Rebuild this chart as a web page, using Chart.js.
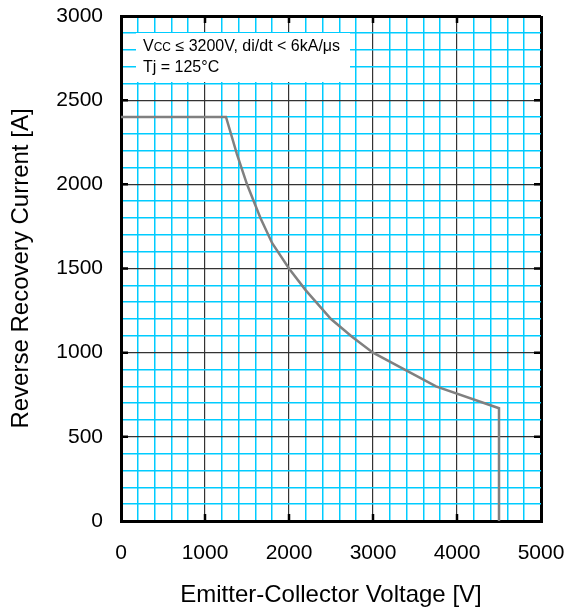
<!DOCTYPE html>
<html>
<head>
<meta charset="utf-8">
<script src="https://cdn.jsdelivr.net/npm/chart.js@4"></script>
<style>
  html, body { margin: 0; padding: 0; background: #fff; }
  #wrap { width: 569px; height: 612px; }
</style>
</head>
<body>
<div id="wrap"><canvas id="chartRRSOA"></canvas></div>
<script>
// === DATA ===
const voltage = [0, 1250, 1380, 1500, 1660, 1800, 2000, 2200, 2500, 2750, 3000, 3750, 4500, 4500];
const current = [2400, 2400, 2180, 2000, 1800, 1650, 1500, 1370, 1200, 1095, 1000, 800, 670, 0];
const xTicks = [0, 1000, 2000, 3000, 4000, 5000];
const yTicks = [0, 500, 1000, 1500, 2000, 2500, 3000];
const noteLines = ['Vcc \u2264 3200V, di/dt < 6kA/\u03bcs', 'Tj = 125\u00b0C'];

const FONT = 'Liberation Sans, Arial, sans-serif';
const CYAN = '#00ccff';

// === GRID STYLE ===
function gridColor(ticks, min, max) {
  return ctx => {
    const v = ctx.tick.value;
    if (v === min || v === max) return '#000';
    return ticks.includes(v) ? '#333' : CYAN;
  };
}
function gridWidth(min, max, majors) {
  return ctx => {
    const v = ctx.tick.value;
    if (v === min || v === max) return 3;
    return majors.includes(v) ? 1.2 : 1.5;
  };
}

// === PLUGIN: short tick marks on the inside of the frame ===
const innerTicks = {
  id: 'innerTicks',
  afterDatasetsDraw(chart) {
    const { ctx, chartArea: a, scales: { x, y } } = chart;
    ctx.save();
    ctx.strokeStyle = '#000';
    ctx.lineWidth = 2.5;
    ctx.beginPath();
    xTicks.slice(1, -1).forEach(v => {
      const px = x.getPixelForValue(v);
      ctx.moveTo(px, a.bottom); ctx.lineTo(px, a.bottom - 7);
      ctx.moveTo(px, a.top); ctx.lineTo(px, a.top + 7);
    });
    yTicks.slice(1, -1).forEach(v => {
      const py = y.getPixelForValue(v);
      ctx.moveTo(a.left, py); ctx.lineTo(a.left + 7, py);
      ctx.moveTo(a.right, py); ctx.lineTo(a.right - 7, py);
    });
    ctx.stroke();
    ctx.restore();
  }
};

// === PLUGIN: condition note ===
const noteBox = {
  id: 'noteBox',
  beforeDatasetsDraw(chart) {
    const { ctx, chartArea: a } = chart;
    const bx = a.left + 15, by = a.top + 17, bw = 214, bh = 49;
    ctx.save();
    ctx.fillStyle = '#fff';
    ctx.fillRect(bx, by, bw, bh);
    ctx.fillStyle = '#000';
    ctx.textBaseline = 'alphabetic';
    // first line: V with small-caps CC
    let tx = bx + 7, ty1 = by + 18, ty2 = by + 39;
    ctx.font = '16px ' + FONT;
    ctx.fillText('V', tx, ty1);
    tx += ctx.measureText('V').width;
    ctx.font = '12px ' + FONT;
    ctx.fillText('CC', tx, ty1);
    tx += ctx.measureText('CC').width;
    ctx.font = '16px ' + FONT;
    ctx.fillText(noteLines[0].slice(3), tx, ty1);
    ctx.fillText(noteLines[1], bx + 7, ty2);
    ctx.restore();
  }
};

// === CHART ===
new Chart(document.getElementById('chartRRSOA'), {
  type: 'scatter',
  data: {
    datasets: [{
      data: voltage.map((v, i) => ({ x: v, y: current[i] })),
      showLine: true,
      borderColor: '#808080',
      borderWidth: 2.5,
      pointRadius: 0,
      tension: 0
    }]
  },
  options: {
    responsive: true,
    maintainAspectRatio: false,
    animation: false,
    layout: { padding: { left: 0, top: 16, right: 28, bottom: 0 } },
    plugins: { legend: { display: false }, tooltip: { enabled: false } },
    scales: {
      x: {
        type: 'linear', min: 0, max: 5000,
        afterFit: s => { s.height = 91; s.paddingLeft = 0; s.paddingRight = 0; },
        ticks: {
          stepSize: 200, autoSkip: false, maxRotation: 0,
          padding: 20, color: '#000', font: { family: FONT, size: 21 },
          callback: v => xTicks.includes(v) ? String(v) : ''
        },
        grid: { drawTicks: false, color: gridColor(xTicks, 0, 5000), lineWidth: gridWidth(0, 5000, xTicks) },
        border: { color: '#000', width: 3 },
        title: { display: true, text: 'Emitter-Collector Voltage [V]', color: '#000',
                 font: { family: FONT, size: 24 }, padding: { top: 0, bottom: 2 } }
      },
      y: {
        type: 'linear', min: 0, max: 3000,
        afterFit: s => { s.width = 121; s.paddingTop = 0; s.paddingBottom = 0; },
        ticks: {
          stepSize: 100, autoSkip: false,
          padding: 18, color: '#000', font: { family: FONT, size: 21 },
          callback: v => yTicks.includes(v) ? String(v) : ''
        },
        grid: { drawTicks: false, color: gridColor(yTicks, 0, 3000), lineWidth: gridWidth(0, 3000, yTicks) },
        border: { color: '#000', width: 3 },
        title: { display: true, text: 'Reverse Recovery Current [A]', color: '#000',
                 font: { family: FONT, size: 24 }, padding: { top: 7, bottom: 0 } }
      }
    }
  },
  plugins: [noteBox, innerTicks]
});
</script>
</body>
</html>
